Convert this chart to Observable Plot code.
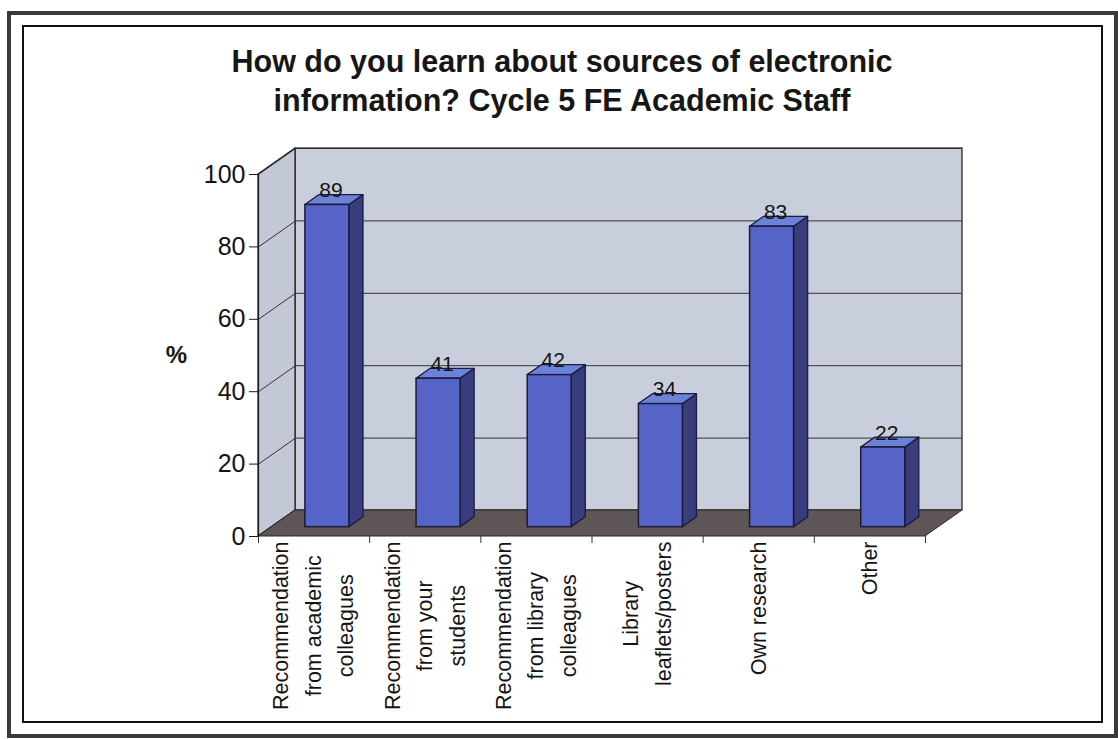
<!DOCTYPE html>
<html>
<head>
<meta charset="utf-8">
<script src="https://cdn.jsdelivr.net/npm/d3@7"></script>
<script src="https://cdn.jsdelivr.net/npm/@observablehq/plot@0.6"></script>
<style>
  html, body { margin: 0; padding: 0; background: #fff; }
  #page { position: relative; width: 1118px; height: 739px; overflow: hidden; background: #fff;
          font-family: "Liberation Sans", Arial, sans-serif; }
  #outer { position: absolute; left: 7px; top: 11px; width: 1103px; height: 719px;
           border: 4px solid #3a3a3a; }
  #inner { position: absolute; left: 22px; top: 25px; width: 1077px; height: 694px;
           border: 2px solid #111; }
  #title { position: absolute; left: 0; top: 42px; width: 1124px; text-align: center;
           font-weight: bold; font-size: 30.5px; line-height: 39px; color: #161616; }
  #chart { position: absolute; left: 0; top: 130px; }
</style>
</head>
<body>
<div id="page">
  <div id="outer"></div>
  <div id="inner"></div>
  <div id="title">How do you learn about sources of electronic<br>information? Cycle 5 FE Academic Staff</div>
  <div id="chart"></div>
</div>
<script>
// Survey answers: share of FE academic staff (%) naming each source
const categories = [
  "Recommendation\nfrom academic\ncolleagues",
  "Recommendation\nfrom your\nstudents",
  "Recommendation\nfrom library\ncolleagues",
  "Library\nleaflets/posters",
  "Own research",
  "Other"
];
const values = [89, 41, 42, 34, 83, 22];
const yTicks = [0, 20, 40, 60, 80, 100];
const yMax = 100;

// Layout of the SVG and the pseudo-3D box
const W = 1118, H = 600;
const mt = 18, mb = 194, ml = 258, mr = 156;
const plotW = W - ml - mr, plotH = H - mt - mb;
const nCats = categories.length;
const depthPx = {x: 37, y: 26};               // offset from front plane to back wall
const pxX = (plotW - depthPx.x) / nCats;       // px per category unit
const pxY = (plotH - depthPx.y) / yMax;         // px per percent
const DX = depthPx.x / pxX, DY = depthPx.y / pxY;

// Bar geometry (in scale units)
const halfW = 22 / pxX;      // half of front-face width
const f0 = 0.36;             // depth fraction of bar front face
const bd = 0.38;             // bar depth as fraction of box depth

const bars = values.map((v, i) => {
  const c = i + 0.5;
  const xl = c - halfW + f0 * DX, xr = c + halfW + f0 * DX;
  const yb = f0 * DY, yt = v + f0 * DY;
  return {i, v, xl, xr, yb, yt, ddx: bd * DX, ddy: bd * DY};
});

const sides = bars.flatMap(b => [
  {i: b.i, x: b.xr, y1: b.yb, y2: b.yt},
  {i: b.i, x: b.xr + b.ddx, y1: b.yb + b.ddy, y2: b.yt + b.ddy}
]);
const tops = bars.flatMap(b => [
  {i: b.i, x: b.xl, y1: b.yt, y2: b.yt},
  {i: b.i, x: b.xl + b.ddx, y1: b.yt, y2: b.yt + b.ddy},
  {i: b.i, x: b.xr, y1: b.yt, y2: b.yt + b.ddy},
  {i: b.i, x: b.xr + b.ddx, y1: b.yt + b.ddy, y2: b.yt + b.ddy}
]);

// Walls and floor
const sideWall = [
  {x: 0, y1: 0, y2: yMax},
  {x: DX, y1: DY, y2: yMax + DY}
];
const floor = [
  {x: 0, y1: 0, y2: 0},
  {x: DX, y1: 0, y2: DY},
  {x: nCats, y1: 0, y2: DY},
  {x: nCats + DX, y1: DY, y2: DY}
];

// Category labels: one rotated text per line, lines centred in the block,
// block hung from just under the floor edge
const labelFont = 21.5, lineGap = 32.5, labelTop = 5;
const ctx = document.createElement("canvas").getContext("2d");
ctx.font = `${labelFont}px "Liberation Sans", Arial, sans-serif`;
const labelLines = categories.flatMap((cat, i) => {
  const lines = cat.split("\n");
  const longest = d3.max(lines, s => ctx.measureText(s).width);
  return lines.map((s, k) => ({
    text: s,
    x: i + 0.5 + (k - (lines.length - 1) / 2) * lineGap / pxX,
    y: -(labelTop + longest / 2) / pxY
  }));
});

const ink = "#141414";
const edge = "#1a1a1a";

const chart = Plot.plot({
  width: W, height: H,
  marginTop: mt, marginBottom: mb, marginLeft: ml, marginRight: mr,
  style: {background: "transparent", fontFamily: '"Liberation Sans", Arial, sans-serif', color: ink, overflow: "visible"},
  x: {type: "linear", domain: [0, nCats + DX], axis: null},
  y: {type: "linear", domain: [0, yMax + DY], axis: null},
  marks: [
    // back wall
    Plot.rect([0], {x1: DX, x2: nCats + DX, y1: DY, y2: yMax + DY, fill: "#c9cedc", stroke: edge, strokeWidth: 1.2}),
    // left side wall
    Plot.areaY(sideWall, {x: "x", y1: "y1", y2: "y2", fill: "#c3c8d6", stroke: edge, strokeWidth: 1.2}),
    // gridlines on back wall and side wall
    Plot.ruleY(yTicks.slice(1), {y: d => d + DY, x1: DX, x2: nCats + DX, stroke: "#333", strokeWidth: 1}),
    Plot.link(yTicks, {x1: 0, y1: d => d, x2: DX, y2: d => d + DY, stroke: "#333", strokeWidth: 1}),
    // floor
    Plot.areaY(floor, {x: "x", y1: "y1", y2: "y2", fill: "#5d5556", stroke: "#2a2626", strokeWidth: 1}),
    // front value axis line
    Plot.ruleX([0], {y1: 0, y2: yMax, stroke: edge, strokeWidth: 1.2}),
    // y axis ticks and labels
    Plot.axisY(yTicks, {anchor: "left", tickSize: 9, tickPadding: 4, fontSize: 25, stroke: edge, color: ink}),
    Plot.text(["%"], {x: 0, y: 50, dx: -82, fontSize: 24, fontWeight: "bold", fill: ink}),
    // category ticks under the floor
    Plot.axisX(d3.range(nCats + 1), {anchor: "bottom", tickSize: 7, tickFormat: () => "", stroke: "#333"}),
    // bars: side, top, front
    Plot.areaY(sides, {x: "x", y1: "y1", y2: "y2", z: "i", fill: "#393d7e", stroke: "#1b1b3a", strokeWidth: 1.3}),
    Plot.areaY(tops, {x: "x", y1: "y1", y2: "y2", z: "i", fill: "#6a82d8", stroke: "#1b1b3a", strokeWidth: 1.3}),
    Plot.rect(bars, {x1: "xl", x2: "xr", y1: "yb", y2: "yt", fill: "#5664c8", stroke: "#1b1b3a", strokeWidth: 1.5}),
    // value labels
    Plot.text(bars, {
      x: b => (b.xl + b.xr) / 2 + b.ddx / 4,
      y: b => b.yt + b.ddy,
      text: b => String(b.v),
      lineAnchor: "bottom", dy: 2, fontSize: 21, fill: ink
    }),
    // category labels
    Plot.text(labelLines, {
      x: "x", y: "y", text: "text", rotate: -90,
      textAnchor: "middle", lineAnchor: "middle", fontSize: labelFont, fill: ink
    })
  ]
});

document.getElementById("chart").appendChild(chart);
</script>
</body>
</html>
